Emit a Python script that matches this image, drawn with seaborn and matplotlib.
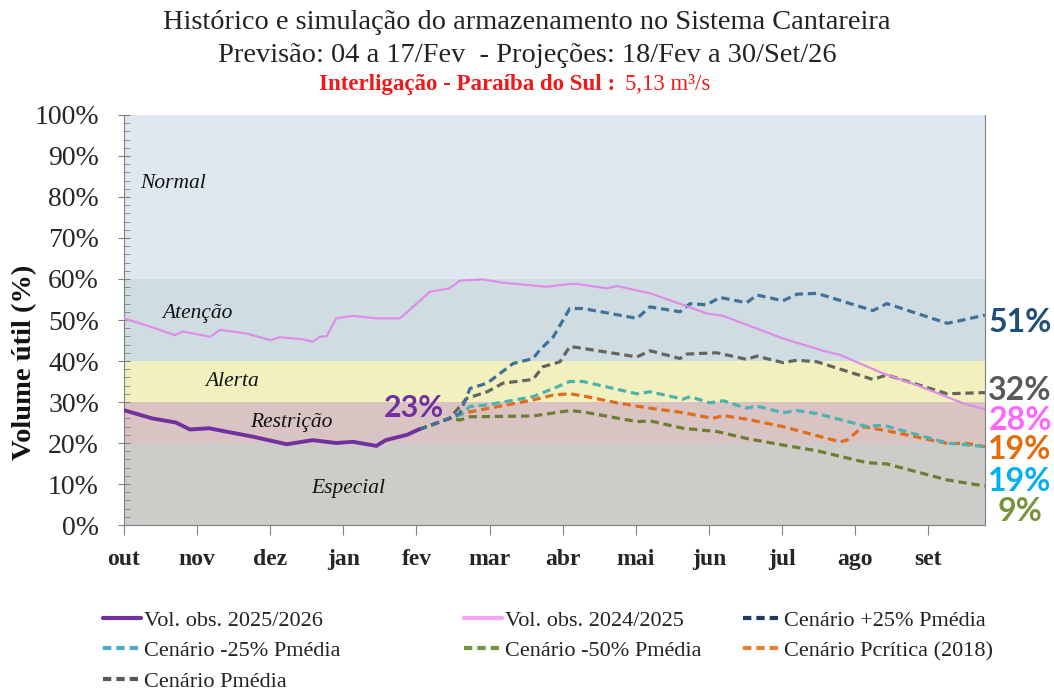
import numpy as np
import pandas as pd
import matplotlib
matplotlib.use('Agg')
import matplotlib.pyplot as plt
from matplotlib.lines import Line2D
from matplotlib.ticker import MultipleLocator, FuncFormatter
import seaborn as sns

# ---- data (x = day index from 1/Oct, axis spans 365 days) ----
months = ['out', 'nov', 'dez', 'jan', 'fev', 'mar', 'abr', 'mai', 'jun', 'jul', 'ago', 'set']
month_ticks = [0, 31, 62, 93, 124, 155, 186, 217, 248, 279, 310, 341]

obs_2526_x = [0, 12, 22, 28, 36, 55, 69, 80, 90, 97, 107, 111, 120, 125]
obs_2526_y = [28, 26, 25, 23.3, 23.6, 21.5, 19.7, 20.7, 20, 20.3, 19.3, 20.7, 22, 23.3]

obs_2425_x = [0, 11, 21.6, 25, 36.5, 40.7, 52, 62, 66, 76, 80, 83, 86, 90, 97, 107, 117, 122.5,
              129.7, 138, 142.4, 152, 160.7, 179.3, 189, 192, 204.7, 209, 223, 237, 247, 254,
              279.4, 296.3, 303.5, 321.7, 336.2, 355.7, 365]
obs_2425_y = [50.4, 48.4, 46.3, 47.2, 45.9, 47.6, 46.7, 45.1, 45.8, 45.3, 44.7, 45.9, 46.1, 50.4,
              51, 50.4, 50.4, 53.2, 56.9, 57.7, 59.6, 59.9, 59.1, 58.1, 58.8, 58.8, 57.7, 58.3,
              56.5, 53.7, 51.6, 51, 45.5, 42.5, 41.5, 37, 34.1, 29.7, 28.2]

p25_x = [125, 138, 142.4, 146.7, 154, 165, 173.4, 176.3, 182, 189, 194.6, 217.5, 223, 235.7, 240,
         247, 252.6, 264, 268.3, 279.4, 285.3, 293.8, 317.5, 323.4, 349, 355.7, 365]
p25_y = [23.3, 26, 27.2, 33.3, 34.6, 39.4, 40.6, 42.7, 45.9, 52.8, 52.8, 50.4, 53.2, 52, 54,
         53.7, 55.5, 54.2, 56.1, 54.7, 56.3, 56.5, 52.3, 54, 49.2, 50, 51.2]

pmed_x = [125, 138, 145.4, 154, 160.7, 173.4, 177.6, 184.8, 189, 192, 217.5, 223, 235.7, 238.7,
          251.4, 264, 268.3, 279.4, 285.3, 293.8, 317.5, 323.4, 349, 365]
pmed_y = [23.3, 26, 30.9, 32.5, 34.6, 35.5, 38.6, 39.8, 43.5, 43.3, 41, 42.5, 40.6, 41.7,
          42, 40.4, 41.2, 39.6, 40.2, 39.8, 35.5, 36.6, 32, 32.3]

m25_x = [125, 138, 142.4, 146.7, 154, 173.4, 182, 189, 194.6, 217.5, 223, 237, 240, 248.4, 254,
         264, 268.3, 279.4, 285.3, 293.8, 315, 321.7, 349, 365]
m25_y = [23.3, 26, 26.8, 28.9, 29.3, 31.3, 33.3, 35, 35, 32, 32.5, 30.7, 31.3, 29.8, 30.3,
         28.5, 29, 27.4, 27.9, 27.2, 24, 24.4, 20, 19.1]

pcrit_x = [125, 138, 142.4, 146.7, 173.4, 182, 189, 194.6, 209, 223, 237, 249.7, 254, 264,
           279.4, 303.5, 306.5, 313.3, 323.4, 349, 357.4, 365]
pcrit_y = [23.3, 26, 27, 27.6, 30.5, 31.7, 32, 31.5, 29.8, 28.5, 27.4, 26, 26.7, 25.8,
           24, 20.3, 20.7, 24, 23, 19.9, 19.9, 19.1]

m50_x = [125, 138, 142.4, 146.7, 173.4, 189, 194.6, 217.5, 223, 237, 251.4, 264, 279.4, 293.8,
         315, 323.4, 349, 365]
m50_y = [23.3, 26, 25.6, 26.4, 26.6, 27.9, 27.6, 25.2, 25.4, 23.6, 22.8, 21.1, 19.5, 18.1,
         15.2, 14.9, 11, 9.5]

band_edges = [0, 20, 30, 40, 60, 100]
band_names = ['Especial', 'Restrição', 'Alerta', 'Atenção', 'Normal']
band_colors = ['#CECCC8', '#D9C3C3', '#F2F0BF', '#CFDDE2', '#DFE7F1']
band_label_x = [95, 71, 46, 31, 21]
band_label_y = [9, 24.9, 35.1, 51.7, 83.2]

end_labels = ['51%', '32%', '28%', '19%', '19%', '9%']
end_label_y = [49.5, 32.9, 25.4, 18.3, 10.5, 3.4]
end_label_colors = ['#1F4E79', '#595959', '#FF66FF', '#E46C0A', '#00B0F0', '#77933C']

sns.set_style('ticks')
plt.rcParams['font.family'] = ['Liberation Serif', 'DejaVu Serif']

fig = plt.figure(figsize=(10.54, 6.91), dpi=100)
ax = fig.add_axes([0.1176, 0.2402, 0.8169, 0.5934])

# background bands
for i in range(len(band_names)):
    ax.axhspan(band_edges[i], band_edges[i + 1], color=band_colors[i], lw=0, zorder=0)
    ax.text(band_label_x[i], band_label_y[i], band_names[i], style='italic', fontsize=15.5,
            ha='center', va='center', color='#111111', zorder=1)

dash = (2.6, 1.5)
series = [
    (pcrit_x, pcrit_y, '#E06C1C'),
    (m50_x, m50_y, '#6E7D33'),
    (m25_x, m25_y, '#4DB3AE'),
    (pmed_x, pmed_y, '#656560'),
    (p25_x, p25_y, '#41709A'),
]
for xs, ys, c in series:
    sns.lineplot(x=xs, y=ys, ax=ax, color=c, lw=2.3, sort=False, zorder=3)
    ax.lines[-1].set_dashes(dash)

sns.lineplot(x=obs_2425_x, y=obs_2425_y, ax=ax, color='#DD8EE6', lw=1.6, sort=False, zorder=4)
sns.lineplot(x=obs_2526_x, y=obs_2526_y, ax=ax, color='#7030A0', lw=2.8, sort=False, zorder=5)

ax.text(123, 28.5, '23%', fontsize=22, fontweight='bold', color='#7030A0',
        family=['Lato', 'DejaVu Sans'], ha='center', va='center', zorder=6)

for lab, yv, c in zip(end_labels, end_label_y, end_label_colors):
    ax.annotate(lab, xy=(1.0407, yv), xycoords=('axes fraction', 'data'), fontsize=23,
                fontweight='bold', color=c, family=['Lato', 'DejaVu Sans'],
                ha='center', va='center', annotation_clip=False)

# axes
ax.set_xlim(0, 365)
ax.set_ylim(0, 100)
ax.set_xticks(month_ticks)
ax.set_xticklabels(months, fontsize=17, fontweight='bold')
ax.yaxis.set_major_locator(MultipleLocator(10))
ax.yaxis.set_minor_locator(MultipleLocator(2))
ax.yaxis.set_major_formatter(FuncFormatter(lambda v, p: f'{v:.0f}%'))
ax.tick_params(axis='y', which='major', direction='inout', length=8, labelsize=20,
               color='#808080', pad=14)
ax.tick_params(axis='y', which='minor', direction='in', length=4, color='#808080')
ax.tick_params(axis='x', which='major', direction='out', length=7, color='#808080', pad=10)
ax.set_ylabel('')
ax.set_xlabel('')
fig.text(0.0235, 0.476, 'Volume útil (%)', rotation=90, ha='center', va='center',
         fontsize=20.5, fontweight='bold', color='#111111')
for s in ['left', 'bottom', 'right']:
    ax.spines[s].set_color('#808080')
ax.spines['top'].set_visible(False)

# titles
fig.text(0.5, 0.968, 'Histórico e simulação do armazenamento no Sistema Cantareira',
         ha='center', va='center', fontsize=20.4, color='#222222')
fig.text(0.5, 0.920, 'Previsão: 04 a 17/Fev  - Projeções: 18/Fev a 30/Set/26',
         ha='center', va='center', fontsize=20.4, color='#222222')
fig.text(0.584, 0.877, 'Interligação - Paraíba do Sul :', ha='right', va='center',
         fontsize=16.5, fontweight='bold', color='#F01818')
fig.text(0.593, 0.877, '5,13 m³/s', ha='left', va='center', fontsize=16.5, color='#F01818')

# legend, three columns placed separately
def h(c, ls='-', lw=3):
    return Line2D([0], [0], color=c, lw=lw, ls=ls, dashes=(2, 1.2) if ls == '--' else (None, None))

cols = [
    ([h('#7030A0'), h('#4BACC6', '--'), h('#595959', '--')],
     ['Vol. obs. 2025/2026', 'Cenário -25% Pmédia', 'Cenário Pmédia'], 0.098),
    ([h('#F4A6F2'), h('#77933C', '--')],
     ['Vol. obs. 2024/2025', 'Cenário -50% Pmédia'], 0.440),
    ([h('#1F3864', '--'), h('#ED7D31', '--')],
     ['Cenário +25% Pmédia', 'Cenário Pcrítica (2018)'], 0.705),
]
for hs, ls, x0 in cols:
    leg = fig.legend(hs, ls, loc='upper left', bbox_to_anchor=(x0, 0.117),
                     frameon=False, fontsize=16, handlelength=1.7, handletextpad=0.15,
                     labelspacing=0.45, borderaxespad=0, borderpad=0)
    for t in leg.get_texts():
        t.set_color('#222222')

fig.savefig('out.png', dpi=100)
